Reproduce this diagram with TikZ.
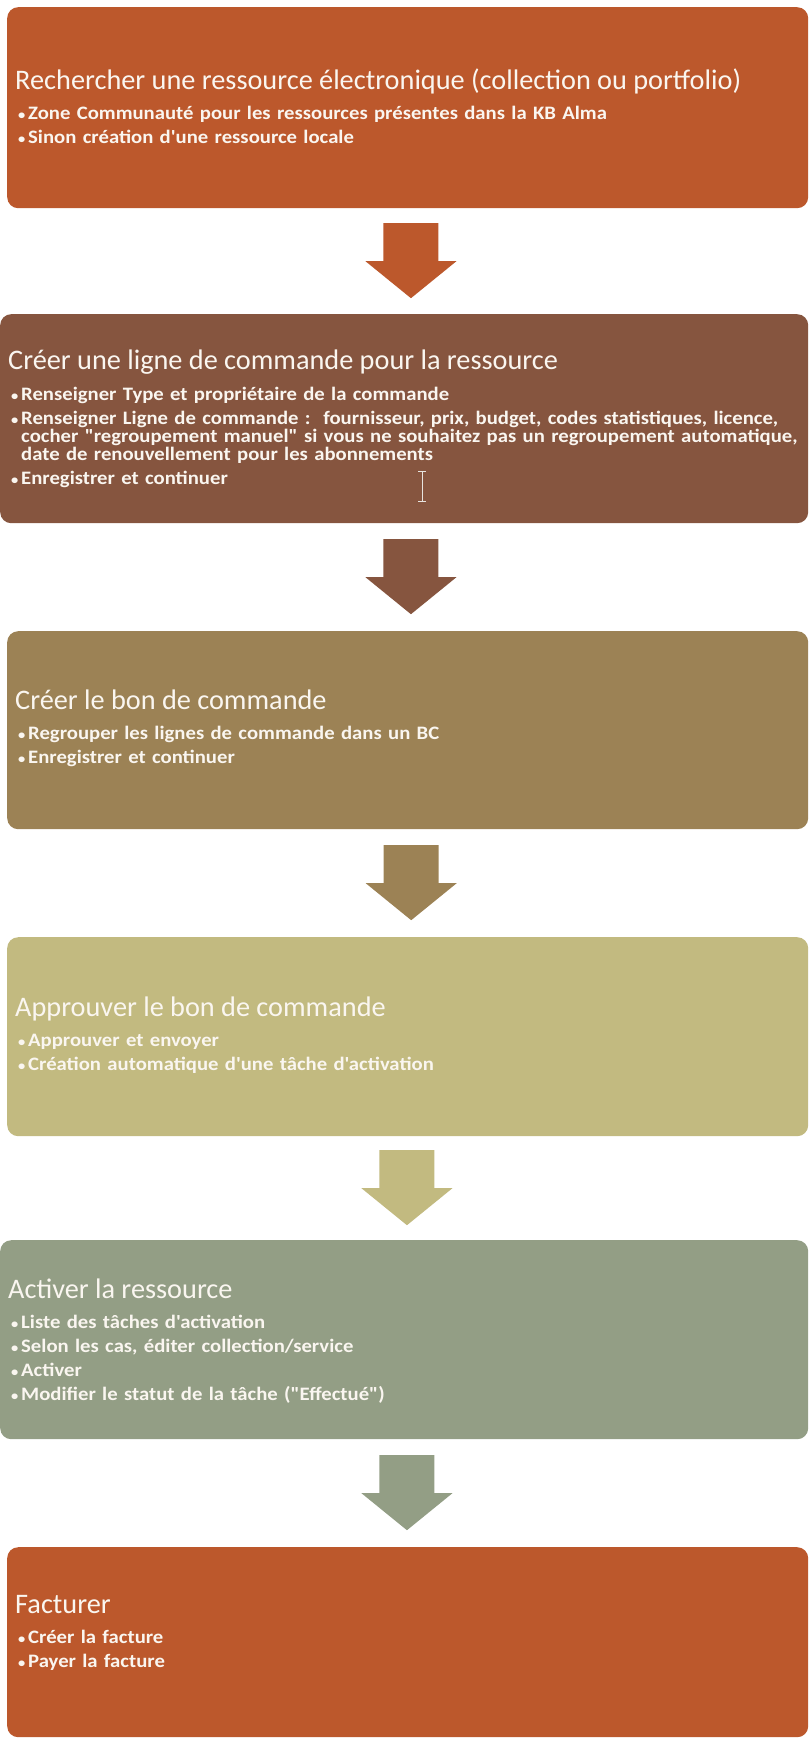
\documentclass[tikz,border=0pt]{standalone}
\usepackage{fontspec}
\setmainfont{Carlito}[Ligatures=TeXOff]
\newfontfamily\pucefont{Carlito}[Ligatures=TeXOff, FakeStretch=1.09]
\usetikzlibrary{calc}

\definecolor{rouille}{HTML}{BC582C}
\definecolor{brun}{HTML}{86553F}
\definecolor{bronze}{HTML}{9C8255}
\definecolor{paille}{HTML}{C2BA80}
\definecolor{sauge}{HTML}{939E85}
\definecolor{texte}{HTML}{FAF6F0}

\tikzset{
  etape/.style={fill=#1, rounded corners=11pt, anchor=north west, inner sep=0pt},
  contenu/.style={anchor=base west, inner sep=0pt, text=texte, align=left,
    text width=800pt, font=\pucefont\fontsize{19}{18}\selectfont\bfseries},
  pics/fleche/.style={code={
    \fill[#1] (-27.5,-38) -- (27.5,-38) -- (27.5,0) -- (45.5,0) -- (0,37)
      -- (-45.5,0) -- (-27.5,0) -- cycle;
  }}
}

\newcommand\titre[1]{{\rmfamily\fontsize{28.3}{18}\mdseries\selectfont #1}\\[12pt]}
\newcommand\puce{\makebox[13pt][l]{\hspace{3pt}\scalebox{0.7}{•}}}
\newcommand\suite{\hspace*{13pt}}

\begin{document}
\begin{tikzpicture}[x=1pt, y=-1pt]
  \useasboundingbox (0,0) rectangle (808,1739);
  % les etapes
  \node[etape=rouille, minimum width=801pt, minimum height=201pt] (e1) at (7,7) {};
  \node[etape=brun,    minimum width=808pt, minimum height=209pt] (e2) at (0,314) {};
  \node[etape=bronze,  minimum width=801pt, minimum height=198pt] (e3) at (7,631) {};
  \node[etape=paille,  minimum width=801pt, minimum height=199pt] (e4) at (7,937) {};
  \node[etape=sauge,   minimum width=808pt, minimum height=199pt] (e5) at (0,1240) {};
  \node[etape=rouille, minimum width=801pt, minimum height=190pt] (e6) at (7,1547) {};

  % textes
  \node[contenu] (t1) at ($(e1.north west)+(8,83)$) {%
    \titre{Rechercher une ressource électronique (collection ou portfolio)}
    \puce Zone Communauté pour les ressources présentes dans la KB Alma\\[6pt]
    \puce Sinon création d'une ressource locale};
  \node[contenu] (t2) at ($(e2.north west)+(8,55)$) {%
    \titre{Créer une ligne de commande pour la ressource}
    \puce Renseigner Type et propriétaire de la commande\\[6pt]
    \puce Renseigner Ligne de commande :~~fournisseur, prix, budget, codes statistiques, licence,\\
    \suite cocher "regroupement manuel" si vous ne souhaitez pas un regroupement automatique,\\
    \suite date de renouvellement pour les abonnements\\[6pt]
    \puce Enregistrer et continuer};
  \node[contenu] (t3) at ($(e3.north west)+(8,78)$) {%
    \titre{Créer le bon de commande}
    \puce Regrouper les lignes de commande dans un BC\\[6pt]
    \puce Enregistrer et continuer};
  \node[contenu] (t4) at ($(e4.north west)+(8,79)$) {%
    \titre{Approuver le bon de commande}
    \puce Approuver et envoyer\\[6pt]
    \puce Création automatique d'une tâche d'activation};
  \node[contenu] (t5) at ($(e5.north west)+(8,58)$) {%
    \titre{Activer la ressource}
    \puce Liste des tâches d'activation\\[6pt]
    \puce Selon les cas, éditer collection/service\\[6pt]
    \puce Activer\\[6pt]
    \puce Modifier le statut de la tâche ("Effectué")};
  \node[contenu] (t6) at ($(e6.north west)+(8,66)$) {%
    \titre{Facturer}
    \puce Créer la facture\\[6pt]
    \puce Payer la facture};

  % curseur
  \draw[texte!85!gray, line width=1pt] (422,471) -- (422,501)
    (418,471) -- (426,471) (418,501) -- (426,501);

  % fleches
  \pic at ($(e1.south)!0.5!(e2.north)+(5,0)$) {fleche=rouille};
  \pic at ($(e2.south)!0.5!(e3.north)+(5,0)$) {fleche=brun};
  \pic at ($(e3.south)!0.5!(e4.north)+(3.5,0)$) {fleche=bronze};
  \pic at ($(e4.south)!0.5!(e5.north)+(1,0)$) {fleche=paille};
  \pic at ($(e5.south)!0.5!(e6.north)+(1,0)$) {fleche=sauge};
\end{tikzpicture}
\end{document}
